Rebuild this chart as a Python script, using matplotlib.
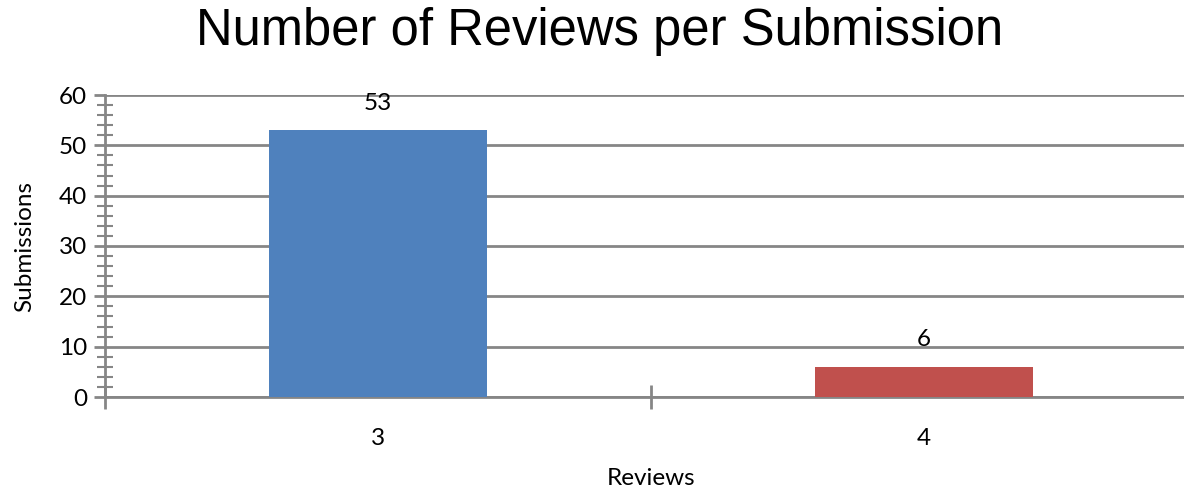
import matplotlib.pyplot as plt
from matplotlib.ticker import MultipleLocator

reviews = ["3", "4"]
submissions = [53, 6]
bar_colors = ["#4F81BD", "#C0504D"]

W, H = 1184, 488
fig = plt.figure(figsize=(W / 100, H / 100), dpi=100)
# axes run off the right edge like the original export
ax = fig.add_axes([105 / W, 1 - 397 / H, (1197 - 105) / W, (397 - 95) / H])

fs = 17.5
pos = [3, 4]
ax.bar(pos, submissions, width=0.4, color=bar_colors, zorder=3)
for x, v in zip(pos, submissions):
    ax.text(x, v + 3.3, str(v), ha="center", va="bottom", fontsize=fs, family="Lato")

ax.set_xlim(2.5, 4.5)
ax.set_ylim(0, 60)
ax.yaxis.set_major_locator(MultipleLocator(10))
ax.yaxis.set_minor_locator(MultipleLocator(2))
ax.set_xticks([2.5, 3.5, 4.5])
ax.set_xticklabels([])
ax.set_xticks(pos, minor=True)
ax.set_xticklabels(reviews, minor=True, fontsize=fs, family="Lato")

grid_c = "#868686"
ax.grid(axis="y", which="major", color=grid_c, lw=2, zorder=0)
for s in ["top", "right"]:
    ax.spines[s].set_visible(False)
for s in ["left", "bottom"]:
    ax.spines[s].set_color(grid_c)
    ax.spines[s].set_linewidth(2)

ax.tick_params(axis="y", which="major", direction="out", length=8, width=2, color=grid_c, labelsize=fs, pad=5)
ax.tick_params(axis="y", which="minor", direction="inout", length=12, width=1.5, color=grid_c)
ax.tick_params(axis="x", which="major", direction="inout", length=17, width=2, color=grid_c)
ax.tick_params(axis="x", which="minor", length=0, pad=22)
for lbl in ax.get_yticklabels():
    lbl.set_family("Lato")

ax.set_xlabel("Reviews", fontsize=fs, family="Lato", labelpad=14)
ax.set_ylabel("Submissions", fontsize=fs, family="Lato", labelpad=17)
fig.text(600 / W, 1 - 32 / H, "Number of Reviews per Submission", ha="center", va="center",
         fontsize=36.5, family="Liberation Sans")

fig.savefig("out.png", dpi=100)
